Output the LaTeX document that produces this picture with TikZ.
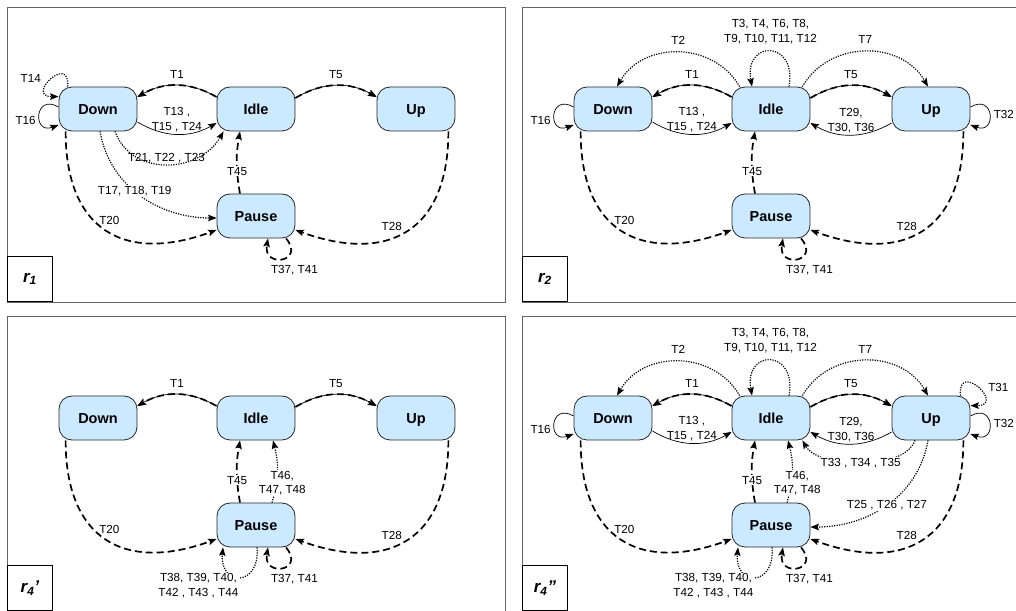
\documentclass[tikz,border=0pt]{standalone}
\usepackage{fontspec}
\setmainfont{Liberation Sans}
\usepackage{tikz}
\usetikzlibrary{arrows.meta,positioning}
\definecolor{stateblue}{RGB}{204,234,255}
\definecolor{framegray}{RGB}{100,100,100}

\begin{document}
\begin{tikzpicture}[x=1pt, y=1pt,
    statebox/.style={rectangle, draw=black!85, fill=stateblue, rounded corners=13pt, minimum width=78pt, minimum height=44pt, line width=0.8pt, text height=10.4pt, text depth=0pt, font=\fontsize{14.5}{17}\selectfont\bfseries},
    panel/.style={draw=framegray, line width=0.9pt},
    tagbox/.style={rectangle, draw=black, line width=0.9pt, minimum size=45pt, inner sep=0pt, font=\fontsize{17}{20}\selectfont\bfseries\itshape},
    solidedge/.style={-{Stealth[length=8.5pt, width=6.5pt, inset=1.5pt]}, line width=0.7pt},
    dashedge/.style={-{Stealth[length=8.5pt, width=6.5pt, inset=1.5pt]}, line width=1.7pt, dash pattern=on 7pt off 4pt},
    dotedge/.style={-{Stealth[length=8.5pt, width=6.5pt, inset=1.5pt]}, line width=1.2pt, dash pattern=on 1.2pt off 1.3pt},
    tlabel/.style={font=\fontsize{11.7}{14.5}\selectfont, inner sep=1pt, align=center},
    onlabel/.style={tlabel, fill=white}
]
    \useasboundingbox (0,0) rectangle (1016,610);

    % Panels, states and the transitions they all share
    \foreach \p/\px/\py/\rname in {1/7/7/{r\textsubscript{1}}, 2/522/7/{r\textsubscript{2}}, 3/7/316/{r\textsubscript{4}'}, 4/522/316/{r\textsubscript{4}''}}{
        \begin{scope}[shift={({\px},{610-\py})}]
            \draw[panel] (0,0) rectangle (498,-295);
            \node[tagbox, anchor=south west] (tag\p) at (0,-295) {\rname};
            \node[statebox] (down\p)  at (91,-102)  {Down};
            \node[statebox] (idle\p)  at (249,-102) {Idle};
            \node[statebox] (up\p)    at (409,-102) {Up};
            \node[statebox] (pause\p) at (249,-209) {Pause};
        \end{scope}
        \draw[solidedge] ([yshift=12pt]idle\p.west) to[bend right=30] ([yshift=12pt]down\p.east);
        \draw[dashedge] ([yshift=12pt]idle\p.west) to[bend right=30] node[tlabel, above=5pt] {T1} ([yshift=12pt]down\p.east);
        \draw[solidedge] ([yshift=11pt]idle\p.east) to[bend left=30] ([yshift=12pt]up\p.west);
        \draw[dashedge] ([yshift=11pt]idle\p.east) to[bend left=30] node[tlabel, above=5pt] {T5} ([yshift=12pt]up\p.west);
        \draw[dashedge] ([xshift=7pt]down\p.south west) to[out=-90, in=200, looseness=1.4] node[tlabel, pos=0.44, anchor=south west, yshift=-3pt] {T20} ([yshift=-14pt]pause\p.west);
        \draw[dashedge] ([xshift=-7pt]up\p.south east) to[out=-90, in=-20, looseness=1.4] node[tlabel, pos=0.52, anchor=south east] {T28} ([yshift=-14pt]pause\p.east);
        \draw[dashedge] ([xshift=-16pt]pause\p.north) to[bend left=10] node[onlabel, pos=0.35] {T45} ([xshift=-16pt]idle\p.south);
        \draw[dashedge] ([xshift=30pt]pause\p.south) to[out=-50, in=-100, looseness=4.4] node[tlabel, below=5pt, xshift=12pt] {T37, T41} ([xshift=12pt]pause\p.south);
    }

    % r1, r2, r4''
    \foreach \p in {1,2,4}{
        \draw[solidedge] ([yshift=-13pt]down\p.east) to[bend right=30] node[tlabel, above=1pt] {T13 ,\\T15 , T24} ([yshift=-14pt]idle\p.west);
        \draw[solidedge] ([yshift=2pt]down\p.west) to[out=150, in=200, looseness=4] node[tlabel, pos=0.65, left=4pt] {T16} ([yshift=-16pt]down\p.west);
    }

    % r2, r4''
    \foreach \p in {2,4}{
        \draw[dotedge] ([xshift=8pt]idle\p.north west) to[out=120, in=60, looseness=1.1] node[tlabel, above=6pt] {T2} ([xshift=4pt]down\p.north);
        \draw[dotedge] ([xshift=18pt]idle\p.north) to[out=80, in=100, looseness=3.3] node[tlabel, above=6pt] {T3, T4, T6, T8,\\T9, T10, T11, T12} ([xshift=-19pt]idle\p.north);
        \draw[dotedge] ([xshift=-8pt]idle\p.north east) to[out=60, in=120, looseness=1.1] node[tlabel, above=6pt] {T7} ([xshift=-3pt]up\p.north);
        \draw[solidedge] ([yshift=-14pt]up\p.west) to[bend left=30] node[tlabel, above=1pt] {T29,\\T30, T36} ([yshift=-14pt]idle\p.east);
        \draw[solidedge] ([yshift=2pt]up\p.east) to[out=30, in=-20, looseness=4] node[tlabel, pos=0.5, right=3pt] {T32} ([yshift=-16pt]up\p.east);
    }

    % r4', r4''
    \foreach \p in {3,4}{
        \draw[dotedge] ([xshift=16pt]pause\p.north) to[bend right=15] node[onlabel, pos=0.3, xshift=6pt] {T46,\\T47, T48} ([xshift=17pt]idle\p.south);
        \draw[dotedge] ([xshift=1pt]pause\p.south) to[out=-85, in=-95, looseness=3] node[onlabel, pos=0.5, anchor=north east, yshift=5pt] {T38, T39, T40,\\T42 , T43 , T44} ([xshift=-33pt]pause\p.south);
    }

    % r1 only
    \draw[dotedge] ([xshift=9pt]down1.north west) to[out=85, in=180, looseness=6.5] node[tlabel, pos=0.5, left=9pt] {T14} ([yshift=-10pt]down1.north west);
    \draw[dotedge] ([xshift=17pt]down1.south) to[out=-70, in=-120, looseness=1.15] node[tlabel, above=0pt] {T21, T22 , T23} ([xshift=7pt]idle1.south west);
    \draw[dotedge] ([xshift=2pt]down1.south) to[out=-80, in=180] node[onlabel, pos=0.45] {T17, T18, T19} ([yshift=-2pt]pause1.west);

    % r4'' only
    \draw[dotedge] ([xshift=-10pt]up4.north east) to[out=95, in=0, looseness=6.5] node[tlabel, pos=0.5, right=9pt] {T31} ([yshift=-10pt]up4.north east);
    \draw[dotedge] ([xshift=-16pt]up4.south) to[out=-110, in=-60, looseness=0.75] node[onlabel] {T33 , T34 , T35} ([xshift=-8pt]idle4.south east);
    \draw[dotedge] ([xshift=-3pt]up4.south) to[out=-100, in=0] node[onlabel] {T25 , T26 , T27} ([yshift=-2pt]pause4.east);
\end{tikzpicture}
\end{document}
